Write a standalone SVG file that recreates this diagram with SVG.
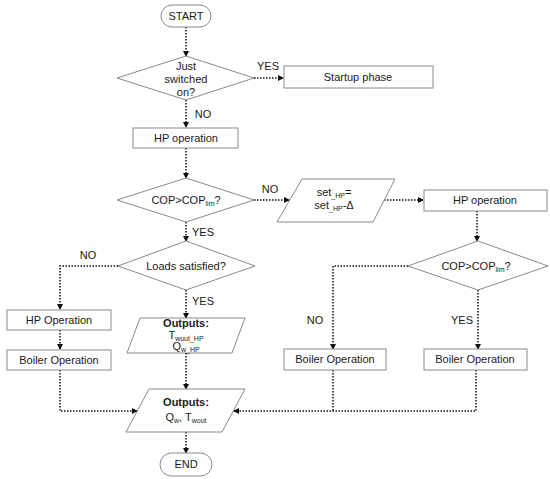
<svg xmlns="http://www.w3.org/2000/svg" width="550" height="479" viewBox="0 0 550 479">
<defs>
<marker id="arr" markerWidth="6" markerHeight="6" refX="5" refY="3" orient="auto" markerUnits="userSpaceOnUse">
<path d="M0,0 L6,3 L0,6 Z" fill="#111"/>
</marker>
<style>
.shape{fill:#fff;stroke:#8a8a8a;stroke-width:1}
.t{font-family:"Liberation Sans",Arial,sans-serif;font-size:11px;fill:#1a1a1a;text-anchor:middle}
.b{font-weight:bold}
.s{font-size:7px}
.c{fill:none;stroke:#111;stroke-width:1.5;stroke-dasharray:1.5 1.5}
.ca{marker-end:url(#arr)}
</style>
</defs>
<rect width="550" height="479" fill="#fff"/>
<g id="connectors">
<path class="c ca" d="M186,27 V56"/>
<path class="c ca" d="M254,78 H283"/>
<path class="c ca" d="M186,100 V127"/>
<path class="c ca" d="M186,148 V178"/>
<path class="c ca" d="M254,200 H289"/>
<path class="c ca" d="M384,200 H423"/>
<path class="c ca" d="M477,211 V241"/>
<path class="c ca" d="M186,222 V241"/>
<path class="c ca" d="M408,266 H333 V349"/>
<path class="c ca" d="M478,290 V349"/>
<path class="c ca" d="M118,266 H60 V309"/>
<path class="c ca" d="M60,330 V349"/>
<path class="c ca" d="M60,370 V411 H137"/>
<path class="c ca" d="M186,290 V318"/>
<path class="c ca" d="M186,353 V389"/>
<path class="c" d="M333,370 V411"/>
<path class="c ca" d="M476,370 V411 H234"/>
<path class="c ca" d="M186,432 V453"/>
</g>
<g id="start"><rect class="shape" x="161" y="5" width="50" height="22" rx="11"/><text class="t" x="186" y="20">START</text></g>
<g id="d1"><polygon class="shape" points="186,56 254,78 186,100 117,78"/>
<text class="t" x="186" y="70">Just</text><text class="t" x="186" y="83">switched</text><text class="t" x="186" y="96">on?</text></g>
<text class="t" x="268" y="70">YES</text>
<g id="startup"><rect class="shape" x="284" y="66" width="149" height="22"/><text class="t" x="358" y="81">Startup phase</text></g>
<text class="t" x="203" y="118">NO</text>
<g id="hp1"><rect class="shape" x="133" y="128" width="105" height="20"/><text class="t" x="186" y="142">HP operation</text></g>
<g id="d2"><polygon class="shape" points="186,178 254,200 186,222 117,200"/>
<text class="t" x="186" y="204">COP&gt;COP<tspan class="s" dy="2">lim</tspan><tspan dy="-2">?</tspan></text></g>
<text class="t" x="270" y="193">NO</text>
<g id="sethp"><polygon class="shape" points="302,179 395,179 373,222 277,222"/>
<text class="t" x="334" y="196">set<tspan class="s" dy="2">_HP</tspan><tspan dy="-2">=</tspan></text>
<text class="t" x="334" y="209">set<tspan class="s" dy="2">_HP</tspan><tspan dy="-2">-Δ</tspan></text></g>
<g id="hp2"><rect class="shape" x="424" y="190" width="123" height="21"/><text class="t" x="485" y="204">HP operation</text></g>
<text class="t" x="203" y="236">YES</text>
<g id="loads"><polygon class="shape" points="186,241 255,266 186,290 118,266"/><text class="t" x="186" y="270">Loads satisfied?</text></g>
<g id="d3"><polygon class="shape" points="478,241 548,266 478,290 408,266"/>
<text class="t" x="476" y="270">COP&gt;COP<tspan class="s" dy="2">lim</tspan><tspan dy="-2">?</tspan></text></g>
<text class="t" x="88" y="259">NO</text>
<text class="t" x="315" y="324">NO</text>
<text class="t" x="462" y="324">YES</text>
<text class="t" x="203" y="305">YES</text>
<g id="hpop"><rect class="shape" x="7" y="310" width="104" height="20"/><text class="t" x="59" y="324">HP Operation</text></g>
<g id="boilerL"><rect class="shape" x="7" y="350" width="104" height="20"/><text class="t" x="59" y="364">Boiler Operation</text></g>
<g id="boilerR1"><rect class="shape" x="284" y="349" width="102" height="21"/><text class="t" x="335" y="363">Boiler Operation</text></g>
<g id="boilerR2"><rect class="shape" x="424" y="349" width="103" height="21"/><text class="t" x="475" y="363">Boiler Operation</text></g>
<g id="out1"><polygon class="shape" points="140,318 245,318 232,353 127,353"/>
<text class="t b" x="186" y="327" font-size="10.5">Outputs:</text>
<text class="t" x="186" y="339" font-size="10">T<tspan class="s" font-size="6.5" dy="1.5">wout_HP</tspan></text>
<text class="t" x="186" y="350" font-size="10">Q<tspan class="s" font-size="6.5" dy="1.5">w_HP</tspan></text></g>
<g id="out2"><polygon class="shape" points="149,389 245,389 222,432 126,432"/>
<text class="t b" x="186" y="406">Outputs:</text>
<text class="t" x="186" y="421">Q<tspan class="s" dy="2">w</tspan><tspan dy="-2">, T</tspan><tspan class="s" dy="2">wout</tspan></text></g>
<g id="end"><rect class="shape" x="160" y="453" width="52" height="23" rx="11.5"/><text class="t" x="186" y="468">END</text></g>
</svg>
